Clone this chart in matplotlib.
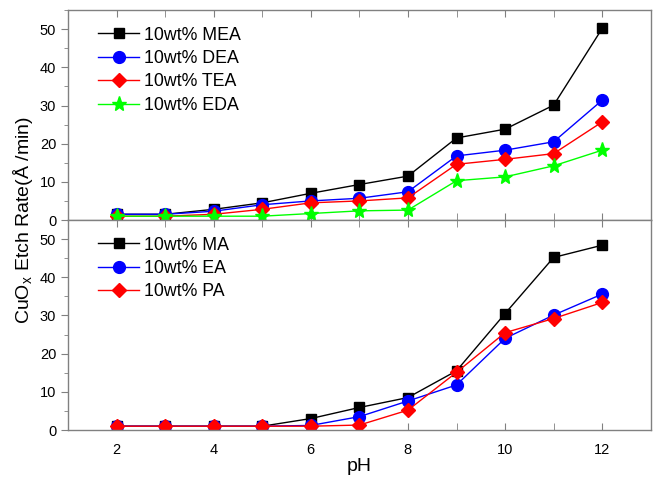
import matplotlib
matplotlib.use("Agg")
import matplotlib.pyplot as plt
from matplotlib.ticker import MultipleLocator

plt.rcParams['font.family'] = ['Liberation Sans', 'DejaVu Sans']

ph = [2, 3, 4, 5, 6, 7, 8, 9, 10, 11, 12]

# top panel: ethanolamines + EDA
mea = [1.5, 1.5, 2.8, 4.5, 7.0, 9.3, 11.5, 21.5, 23.8, 30.1, 50.2]
dea = [1.5, 1.5, 2.3, 4.0, 5.0, 5.7, 7.4, 16.8, 18.3, 20.5, 31.4]
tea = [1.0, 1.0, 1.5, 2.8, 4.5, 5.0, 5.8, 14.6, 15.9, 17.4, 25.7]
eda = [1.0, 1.0, 1.0, 1.0, 1.7, 2.4, 2.6, 10.3, 11.3, 14.2, 18.3]

# bottom panel: alkylamines
ma = [1.0, 1.0, 1.0, 1.0, 3.0, 5.9, 8.5, 15.5, 30.5, 45.2, 48.4]
ea = [1.0, 1.0, 1.0, 1.0, 1.2, 3.5, 7.6, 11.8, 24.0, 30.1, 35.6]
pa = [1.0, 1.0, 1.0, 1.0, 1.0, 1.3, 5.2, 15.1, 25.5, 29.2, 33.4]

top_series = [("10wt% MEA", mea, "black", "s", 7.5),
              ("10wt% DEA", dea, "blue", "o", 8.5),
              ("10wt% TEA", tea, "red", "D", 7.5),
              ("10wt% EDA", eda, "#00ff00", "*", 11)]
bot_series = [("10wt% MA", ma, "black", "s", 7.5),
              ("10wt% EA", ea, "blue", "o", 8.5),
              ("10wt% PA", pa, "red", "D", 7.5)]

fig = plt.figure(figsize=(6.6, 4.83), dpi=100)
ax1 = fig.add_axes([0.103, 0.5445, 0.883, 0.4345])
ax2 = fig.add_axes([0.103, 0.1097, 0.883, 0.4348])

spine_col = "#808080"

def style_axes(ax, series, show_xlabels):
    for label, vals, col, mk, ms in series:
        ax.plot(ph, vals, color=col, marker=mk, markersize=ms, lw=1.0,
                markeredgecolor=col, label=label)
    ax.set_xlim(1, 13)
    ax.set_ylim(0, 55)
    ax.xaxis.set_major_locator(MultipleLocator(2))
    ax.xaxis.set_minor_locator(MultipleLocator(1))
    ax.yaxis.set_major_locator(MultipleLocator(10))
    ax.yaxis.set_minor_locator(MultipleLocator(5))
    for s in ax.spines.values():
        s.set_color(spine_col)
        s.set_linewidth(1.0)
    ax.tick_params(axis='x', which='both', direction='in', top=True, bottom=True,
                   length=5, color=spine_col, labelsize=10.5, pad=9,
                   labelbottom=show_xlabels)
    ax.tick_params(axis='y', which='major', direction='out', length=5,
                   color=spine_col, labelsize=10.5)
    ax.tick_params(axis='y', which='minor', direction='out', length=3,
                   color=spine_col)
    ax.legend(loc='upper left', frameon=False, fontsize=12.8,
              handlelength=2.3, handletextpad=0.25, labelspacing=0.36,
              borderaxespad=0.0, bbox_to_anchor=(0.04, 0.955))

style_axes(ax1, top_series, False)
style_axes(ax2, bot_series, True)

ax2.set_xlabel("pH", fontsize=14, labelpad=1)
fig.text(0.035, 0.545, "CuO$_\\mathregular{x}$ Etch Rate(Å /min)", rotation=90,
         ha='center', va='center', fontsize=14)

fig.savefig("out.png", dpi=100)
